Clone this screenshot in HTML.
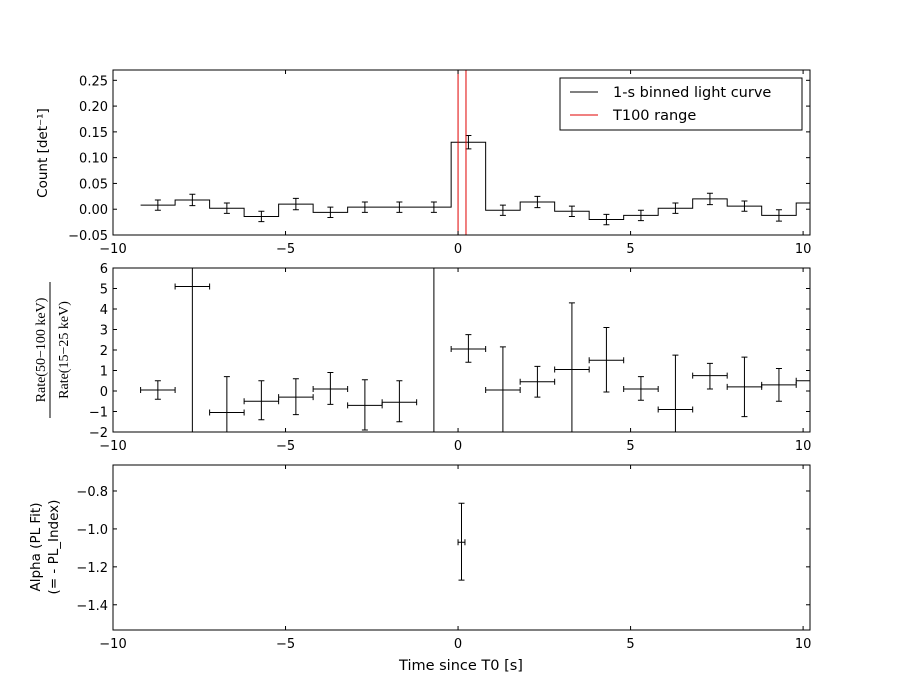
<!DOCTYPE html>
<html><head><meta charset="utf-8"><style>
html,body{margin:0;padding:0;background:#fff;width:900px;height:700px;overflow:hidden}
svg{display:block;font-family:"DejaVu Sans","Liberation Sans",sans-serif}
</style></head><body>
<svg id="fig" width="900" height="700" xmlns="http://www.w3.org/2000/svg"></svg>
<script>
const lcCenters=[-8.7,-7.7,-6.7,-5.7,-4.7,-3.7,-2.7,-1.7,-0.7,0.3,1.3,2.3,3.3,4.3,5.3,6.3,7.3,8.3,9.3,10.3];
const lcValues=[0.008,0.018,0.002,-0.014,0.010,-0.006,0.004,0.004,0.004,0.130,-0.002,0.014,-0.004,-0.020,-0.012,0.002,0.020,0.006,-0.012,0.012];
const lcErrors=[0.010,0.011,0.010,0.010,0.011,0.010,0.010,0.010,0.010,0.013,0.010,0.011,0.010,0.010,0.010,0.010,0.011,0.010,0.011,0.011];
const t100=[0.0,0.23];
const hrCenters=[-8.7,-7.7,-6.7,-5.7,-4.7,-3.7,-2.7,-1.7,-0.7,0.3,1.3,2.3,3.3,4.3,5.3,6.3,7.3,8.3,9.3,10.3];
const hrValues=[0.05,5.1,-1.05,-0.5,-0.3,0.1,-0.7,-0.55,20,2.05,0.05,0.45,1.05,1.5,0.1,-0.9,0.75,0.2,0.3,0.5];
const hrErrLo=[0.45,30,1.5,0.9,0.85,0.75,1.2,0.95,30,0.65,2.5,0.75,4,1.55,0.55,2,0.65,1.45,0.8,0.8];
const hrErrHi=[0.45,30,1.75,1.0,0.9,0.8,1.25,1.05,30,0.7,2.1,0.75,3.25,1.6,0.6,2.65,0.6,1.45,0.8,0.8];
const alT=[0.1];const alV=[-1.07];const alErrLo=[0.2];const alErrHi=[0.205];const alXerr=[0.1];
const xTicks=[-10,-5,0,5,10];
const lcTicks=[-0.05,0.00,0.05,0.10,0.15,0.20,0.25];
const hrTicks=[-2,-1,0,1,2,3,4,5,6];
const alTicks=[-1.4,-1.2,-1.0,-0.8];

const svg=document.getElementById('fig');const NS='http://www.w3.org/2000/svg';
function el(t,a,p){const e=document.createElementNS(NS,t);for(const k in a)e.setAttribute(k,a[k]);(p||svg).appendChild(e);return e;}
const L=113,R=810,xmin=-10,xmax=10.2;
const X=v=>L+(v-xmin)/(xmax-xmin)*(R-L);
function panel(name,top,bot,ymin,ymax,ticks,fmt,labels){
  const g=el('g',{});
  const Y=v=>bot-(v-ymin)/(ymax-ymin)*(bot-top);
  const cp='c'+name;const d=el('clipPath',{id:cp},g);el('rect',{x:L,y:top,width:R-L,height:bot-top},d);
  const plot=el('g',{'clip-path':'url(#'+cp+')'},g);
  xTicks.forEach(t=>{const x=X(t);el('line',{x1:x,x2:x,y1:bot,y2:bot-4,stroke:'#000'},g);el('line',{x1:x,x2:x,y1:top,y2:top+4,stroke:'#000'},g);
    if(labels){const tx=el('text',{x:x,y:bot+18,'text-anchor':'middle','font-size':'13'},g);tx.textContent=(t<0?'\u2212'+(-t):t);}});
  ticks.forEach(t=>{const y=Y(t);el('line',{x1:L,x2:L+4,y1:y,y2:y,stroke:'#000'},g);el('line',{x1:R,x2:R-4,y1:y,y2:y,stroke:'#000'},g);
    const tx=el('text',{x:L-5,y:y+5,'text-anchor':'end','font-size':'13'},g);tx.textContent=fmt(t);});
  el('rect',{x:L,y:top,width:R-L,height:bot-top,fill:'none',stroke:'#000'},g);
  return {plot,Y,g};
}
const neg=s=>s.replace('-','\u2212');
const p1=panel('light-curve-panel',70,235,-0.05,0.27,lcTicks,t=>neg(t.toFixed(2)),true);
let d='';lcCenters.forEach((c,i)=>{const y=p1.Y(lcValues[i]);d+=(i?'L':'M')+X(c-0.5)+','+y+'L'+X(c+0.5)+','+y;});
const st=el('path',{d:d,fill:'none',stroke:'#000'},p1.plot);
lcCenters.forEach((c,i)=>{const x=X(c),y1=p1.Y(lcValues[i]-lcErrors[i]),y2=p1.Y(lcValues[i]+lcErrors[i]);
  const e=el('path',{d:`M${x},${y1}L${x},${y2}M${x-3},${y1}L${x+3},${y1}M${x-3},${y2}L${x+3},${y2}`,stroke:'#000',fill:'none'},p1.plot);
  });
t100.forEach(t=>{const l=el('line',{x1:X(t),x2:X(t),y1:70,y2:235,stroke:'#e00000','stroke-width':1},p1.plot);});
const lg=el('g',{},p1.g);
el('rect',{x:560,y:78,width:242,height:52,fill:'#fff',stroke:'#000'},lg);
el('line',{x1:570,x2:598,y1:92,y2:92,stroke:'#000'},lg);el('line',{x1:570,x2:598,y1:115,y2:115,stroke:'#e00000'},lg);
let tt=el('text',{x:613,y:97,'font-size':'14.5'},lg);tt.textContent='1-s binned light curve';
tt=el('text',{x:613,y:120,'font-size':'14.5'},lg);tt.textContent='T100 range';
tt=el('text',{x:0,y:0,'font-size':'13.5',transform:'translate(47,153) rotate(-90)','text-anchor':'middle'},p1.g);tt.textContent='Count [det\u207B\u00B9]';
const p2=panel('hardness-panel',268,432,-2,6,hrTicks,t=>t<0?'\u2212'+(-t):''+t,true);
hrCenters.forEach((c,i)=>{const x=X(c),y=p2.Y(hrValues[i]),ylo=p2.Y(hrValues[i]-hrErrLo[i]),yhi=p2.Y(hrValues[i]+hrErrHi[i]);
  const e=el('path',{d:`M${x},${ylo}L${x},${yhi}M${X(c-0.5)},${y}L${X(c+0.5)},${y}M${X(c-0.5)},${y-3}L${X(c-0.5)},${y+3}M${X(c+0.5)},${y-3}L${X(c+0.5)},${y+3}M${x-3},${ylo}L${x+3},${ylo}M${x-3},${yhi}L${x+3},${yhi}`,stroke:'#000',fill:'none'},p2.plot);
  });
const yl=el('g',{transform:'translate(45,350) rotate(-90)','font-family':'Liberation Serif,serif','font-size':'14','text-anchor':'middle'},p2.g);

tt=el('text',{x:0,y:0},yl);tt.textContent='Rate(50\u2212100 keV)';el('line',{x1:-68,x2:68,y1:5,y2:5,stroke:'#000'},yl);
tt=el('text',{x:0,y:23},yl);tt.textContent='Rate(15\u221225 keV)';
const p3=panel('alpha-panel',465,630,-1.533,-0.663,alTicks,t=>neg(t.toFixed(1)),true);
alT.forEach((c,i)=>{const x=X(c),y=p3.Y(alV[i]),ylo=p3.Y(alV[i]-alErrLo[i]),yhi=p3.Y(alV[i]+alErrHi[i]);
  const e=el('path',{d:`M${x},${ylo}L${x},${yhi}M${X(c-alXerr[i])},${y}L${X(c+alXerr[i])},${y}M${x-3},${ylo}L${x+3},${ylo}M${x-3},${yhi}L${x+3},${yhi}M${X(c-alXerr[i])},${y-3}L${X(c-alXerr[i])},${y+3}M${X(c+alXerr[i])},${y-3}L${X(c+alXerr[i])},${y+3}`,stroke:'#000',fill:'none'},p3.plot);
  });
tt=el('text',{x:0,y:0,'font-size':'13.5',transform:'translate(40,547) rotate(-90)','text-anchor':'middle'},p3.g);tt.textContent='Alpha (PL Fit)';
tt=el('text',{x:0,y:0,'font-size':'13.5',transform:'translate(58,547) rotate(-90)','text-anchor':'middle'},p3.g);tt.textContent='(= - PL_Index)';
tt=el('text',{x:461,y:670,'font-size':'14.5','text-anchor':'middle'});tt.textContent='Time since T0 [s]';
</script>
</body></html>
